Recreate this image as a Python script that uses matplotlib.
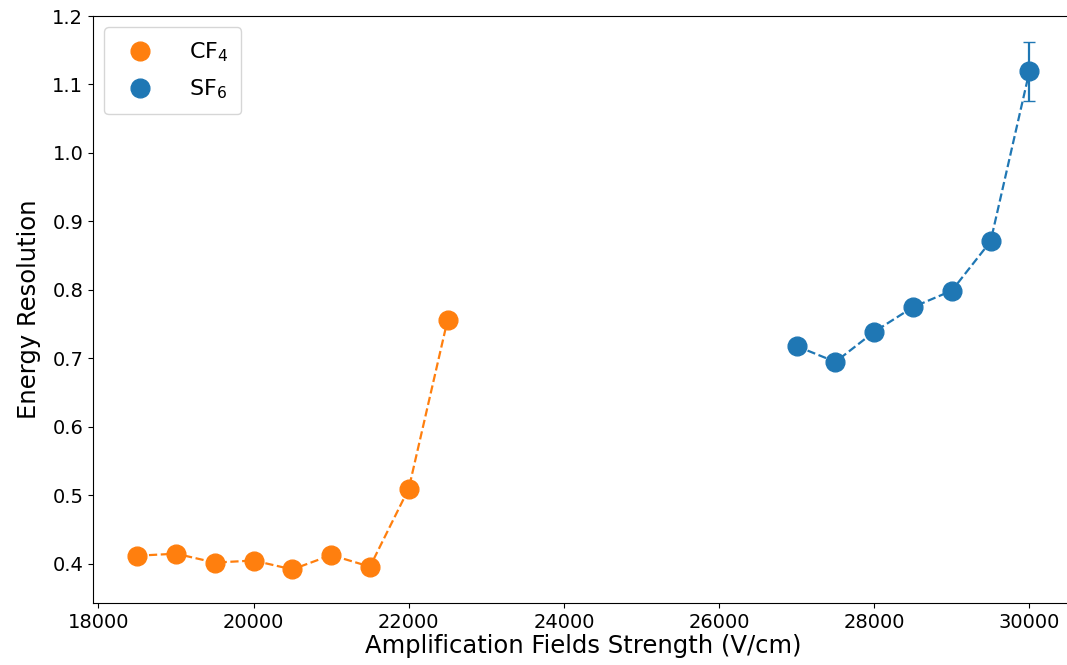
import matplotlib
matplotlib.use("Agg")
import matplotlib.pyplot as plt

cf4_x = [18500, 19000, 19500, 20000, 20500, 21000, 21500, 22000, 22500]
cf4_y = [0.412, 0.415, 0.402, 0.405, 0.392, 0.413, 0.396, 0.510, 0.756]
sf6_x = [27000, 27500, 28000, 28500, 29000, 29500, 30000]
sf6_y = [0.718, 0.695, 0.739, 0.775, 0.799, 0.871, 1.119]
sf6_err = [0.0, 0.0, 0.0, 0.0, 0.0, 0.0, 0.043]

fig = plt.figure(figsize=(10.67, 6.65), dpi=100)
ax = fig.add_axes([93/1067, 1 - 603/665, (1074 - 93)/1067, (603 - 16)/665])

orange = "#ff7f0e"
blue = "#1f77b4"

ax.plot(cf4_x, cf4_y, "--", color=orange, lw=1.6)
ax.plot(sf6_x, sf6_y, "--", color=blue, lw=1.6)
ax.errorbar(sf6_x, sf6_y, yerr=sf6_err, fmt="none", ecolor=blue, capsize=4, elinewidth=1.6)
ax.plot(cf4_x, cf4_y, "o", color=orange, ms=13.5, ls="none", label=r"CF$_4$")
ax.plot(sf6_x, sf6_y, "o", color=blue, ms=13.5, ls="none", label=r"SF$_6$")

ax.set_xlim(17930, 30575)
ax.set_ylim(0.343, 1.2)
ax.set_xticks([18000, 20000, 22000, 24000, 26000, 28000, 30000])
ax.set_yticks([0.4, 0.5, 0.6, 0.7, 0.8, 0.9, 1.0, 1.1, 1.2])
ax.set_yticklabels(["0.4", "0.5", "0.6", "0.7", "0.8", "0.9", "1.0", "1.1", "1.2"])
ax.tick_params(labelsize=14)
ax.set_xlabel("Amplification Fields Strength (V/cm)", fontsize=17.5, labelpad=2)
ax.set_ylabel("Energy Resolution", fontsize=17.5, labelpad=8)
ax.legend(loc="upper left", fontsize=16, borderpad=0.6, handletextpad=1.2, labelspacing=0.6)

fig.savefig("out.png", dpi=100)
